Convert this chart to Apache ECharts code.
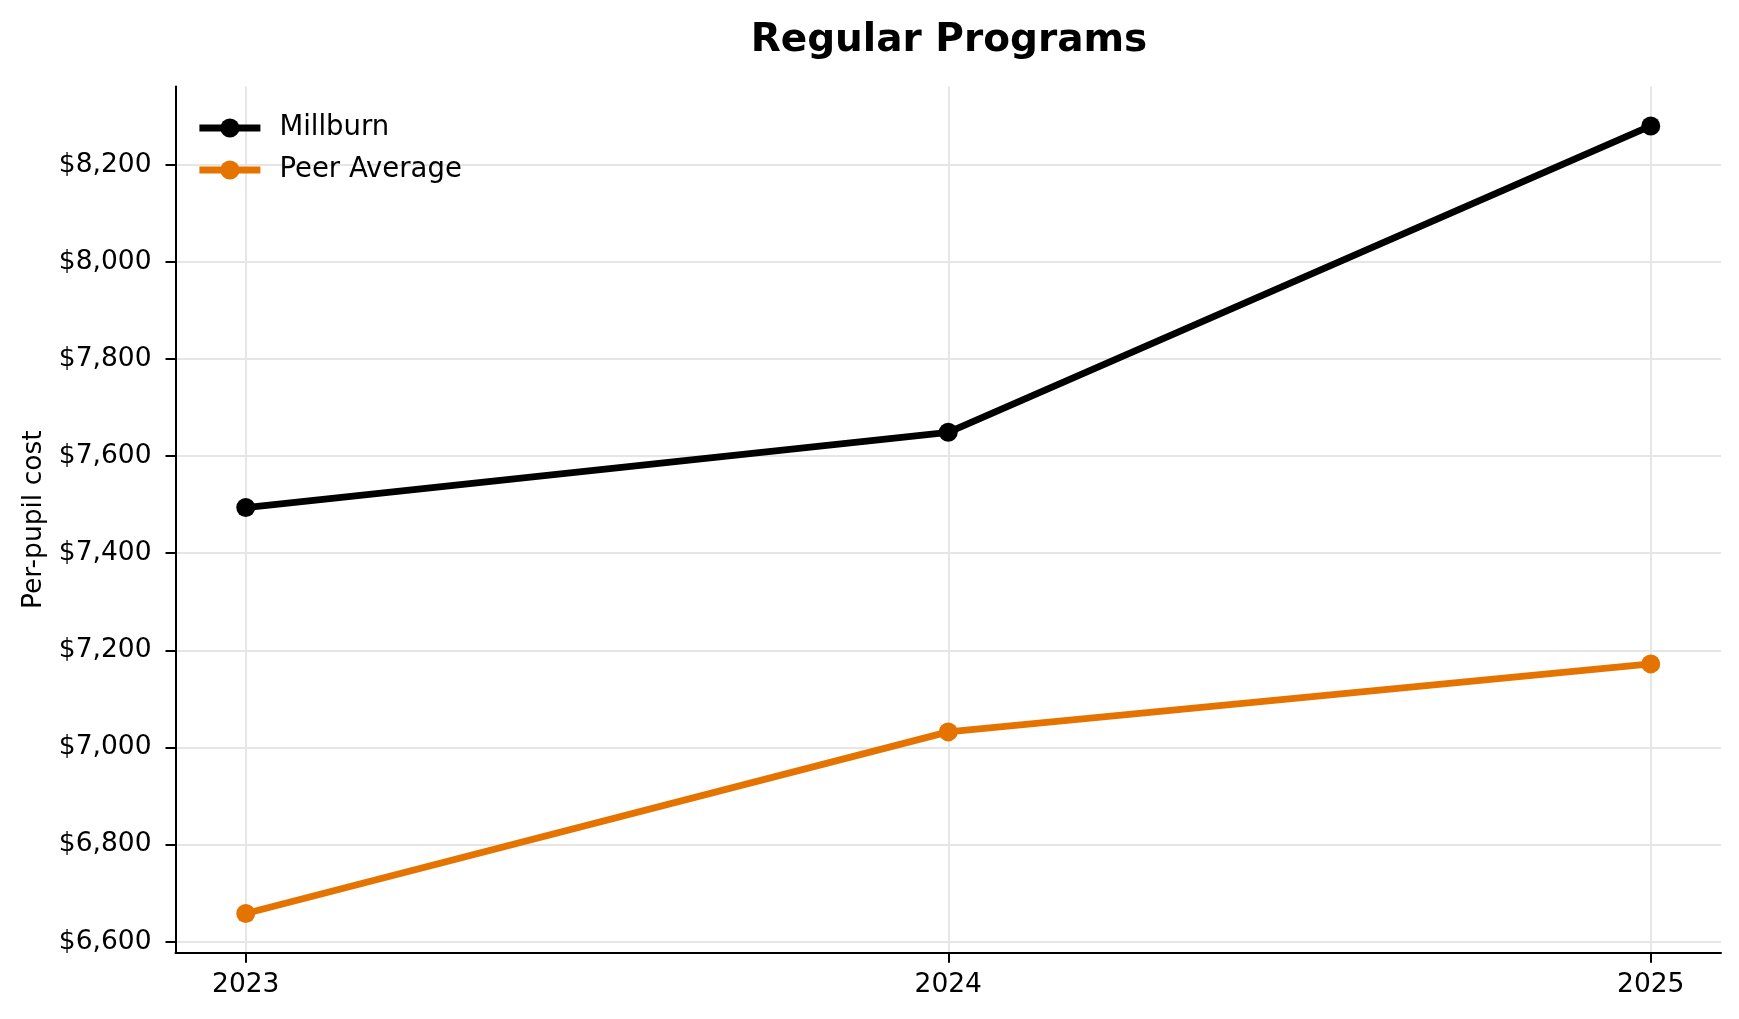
<!DOCTYPE html>
<html>
<head>
<meta charset="utf-8">
<script src="https://cdn.jsdelivr.net/npm/echarts@6/dist/echarts.min.js"></script>
<style>
html,body{margin:0;padding:0;background:#fff;}
#chart{width:1739px;height:1019px;}
</style>
</head>
<body>
<div id="chart"></div>
<script>
const years = [2023, 2024, 2025];
const millburn = [7494, 7649, 8280];
const peerAverage = [6658, 7032, 7172];
const yTicks = [6600, 6800, 7000, 7200, 7400, 7600, 7800, 8000, 8200];
const seriesNames = ['Millburn', 'Peer Average'];
const seriesColors = ['#000000', '#e57300'];

const FONT = 'DejaVu Sans';
const chart = echarts.init(document.getElementById('chart'), null, {renderer: 'canvas'});

function pairs(vals) { return years.map((y, i) => [y, vals[i]]); }

const option = {
  backgroundColor: '#ffffff',
  animation: false,
  title: {
    text: 'Regular Programs',
    left: 944,
    top: 16,
    textAlign: 'center',
    textStyle: {fontFamily: FONT, fontWeight: 'bold', fontSize: 39, color: '#000'}
  },
  legend: {
    left: 196,
    top: 114,
    padding: 0,
    orient: 'vertical',
    itemWidth: 61,
    itemHeight: 24,
    itemGap: 14,
    lineStyle: {width: 6.8},
    textStyle: {fontFamily: FONT, fontSize: 27.5, color: '#000', padding: [0, 0, 0, 14]},
    data: seriesNames
  },
  grid: {left: 175.5, right: 18, top: 86.6, bottom: 66.2, containLabel: false, outerBoundsMode: 'none'},
  xAxis: {
    type: 'value',
    min: 2022.9,
    max: 2025.1,
    axisLine: {show: true, onZero: false, lineStyle: {color: '#000', width: 2}},
    axisTick: {show: true, length: 10, lineStyle: {color: '#000', width: 2}, customValues: years},
    axisLabel: {
      show: true, margin: 19, fontFamily: FONT, fontSize: 26.5, color: '#000',
      customValues: years, formatter: v => String(v)
    },
    splitLine: {show: true, lineStyle: {color: '#e6e6e6', width: 2}, showMinLine: true, showMaxLine: true}
  },
  yAxis: {
    type: 'value',
    min: 6577,
    max: 8361,
    name: 'Per-pupil cost',
    nameLocation: 'middle',
    nameGap: 126,
    nameTextStyle: {fontFamily: FONT, fontSize: 26.5, color: '#000'},
    axisLine: {show: true, lineStyle: {color: '#000', width: 2}},
    axisTick: {show: true, length: 10, lineStyle: {color: '#000', width: 2}, customValues: yTicks},
    axisLabel: {
      show: true, margin: 24, fontFamily: FONT, fontSize: 26.5, color: '#000',
      customValues: yTicks,
      formatter: v => '$' + Math.round(v).toLocaleString('en-US')
    },
    splitLine: {show: true, lineStyle: {color: '#e6e6e6', width: 2}, showMinLine: true, showMaxLine: true}
  },
  series: [
    {
      name: seriesNames[0], type: 'line', data: pairs(millburn),
      symbol: 'circle', symbolSize: 19, showSymbol: true,
      lineStyle: {color: seriesColors[0], width: 6.8},
      itemStyle: {color: seriesColors[0]},
      emphasis: {disabled: true}, z: 3
    },
    {
      name: seriesNames[1], type: 'line', data: pairs(peerAverage),
      symbol: 'circle', symbolSize: 19, showSymbol: true,
      lineStyle: {color: seriesColors[1], width: 6.8},
      itemStyle: {color: seriesColors[1]},
      emphasis: {disabled: true}, z: 3
    }
  ]
};
chart.setOption(option);
</script>
</body>
</html>
